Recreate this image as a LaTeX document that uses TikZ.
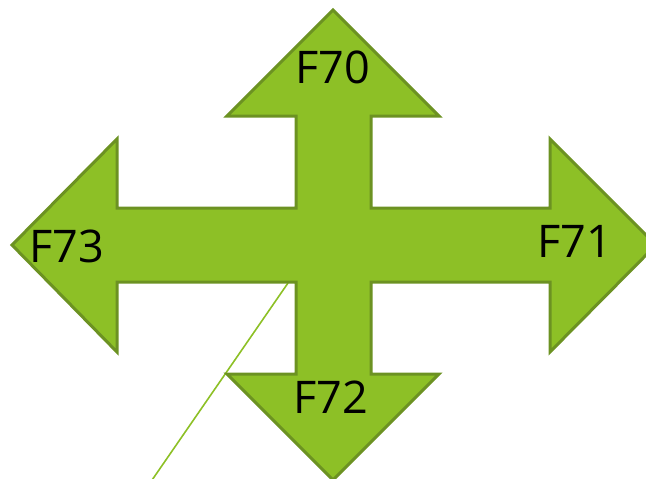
\documentclass[tikz,border=0pt]{standalone}
\usepackage{fontspec}
\setmainfont{Open Sans}
\definecolor{arrowfill}{HTML}{8DC026}
\definecolor{arrowline}{HTML}{6C9222}
\tikzset{
  lbl/.style={font=\fontsize{45}{45}\selectfont, text=black, inner sep=0pt},
  quad/.style={fill=arrowfill, draw=arrowline, line width=3pt, line join=miter},
  leader/.style={draw=arrowfill, line width=1.6pt}
}
\begin{document}
\begin{tikzpicture}[x=1pt,y=-1pt]
\useasboundingbox (0,0) rectangle (646,479);
\clip (0,0) rectangle (646,479);
\coordinate (ls) at (288,283);
\coordinate (le) at (150,483);
\draw[leader] (ls) -- (le);
\draw[quad] (333,10) -- (439,116) -- (371,116) -- (371,208) -- (550,208) -- (550,139)
  -- (656,245) -- (550,352) -- (550,282) -- (371,282) -- (371,374) -- (439,374)
  -- (333,480) -- (227,374) -- (296,374) -- (296,282) -- (117,282) -- (117,352)
  -- (12,245) -- (117,139) -- (117,208) -- (296,208) -- (296,116) -- (227,116) -- cycle;
\node[lbl] (f70) at (333,67) {F70};
\node[lbl] (f71) at (575,241) {F71};
\node[lbl] (f72) at (331,397) {F72};
\node[lbl] (f73) at (67,246) {F73};
\end{tikzpicture}
\end{document}
